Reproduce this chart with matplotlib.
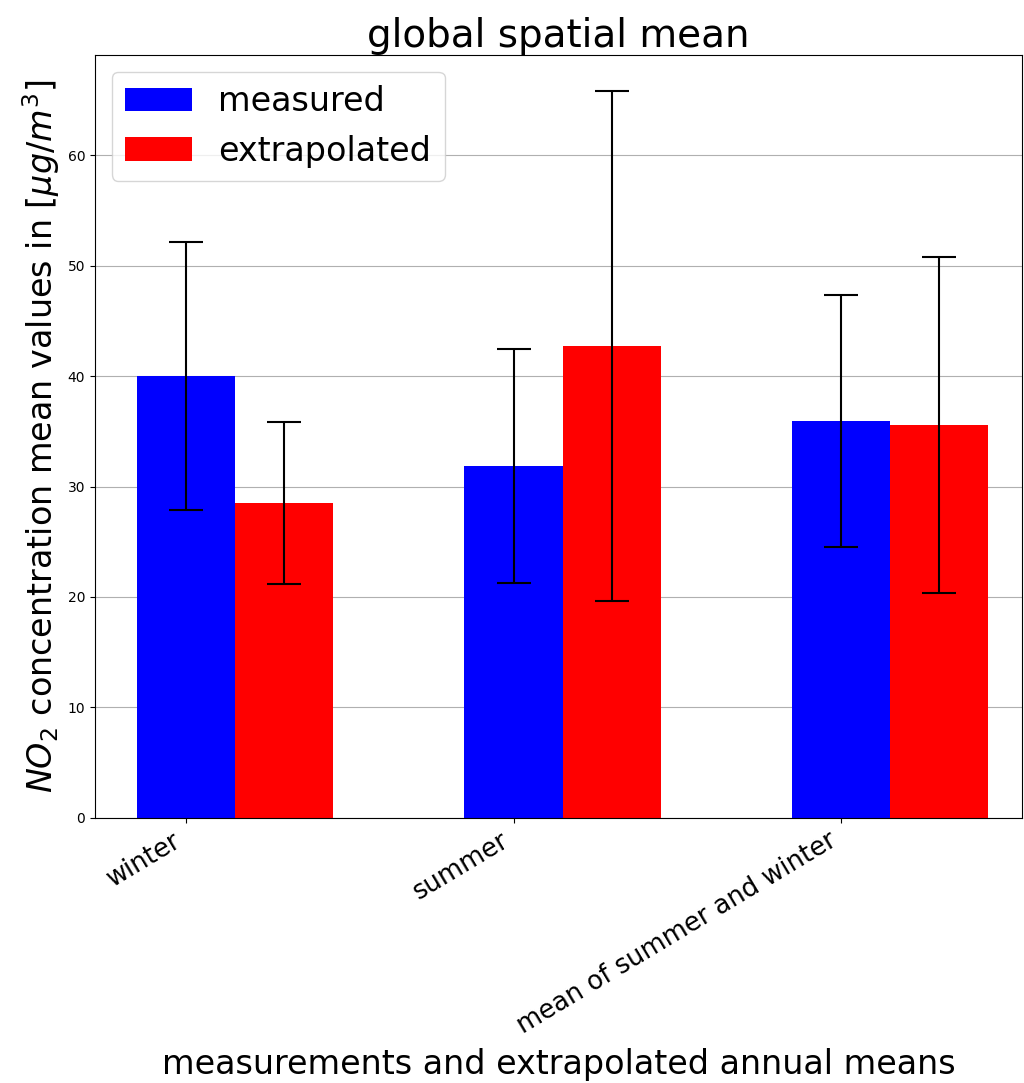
import numpy as np
import matplotlib
matplotlib.use('Agg')
from matplotlib import pyplot as plt

# data
seasons = ['winter', 'summer', 'mean of summer and winter']
measured = [40.0, 31.85, 35.9]
measured_err = [12.1, 10.55, 11.4]
extrapolated = [28.5, 42.7, 35.6]
extrapolated_err = [7.3, 23.1, 15.2]

width = 0.3
x = np.arange(len(seasons))

fig = plt.figure(figsize=(10.24, 10.83), dpi=100)
ax = fig.add_axes([0.0928, 0.2447, 0.9053, 0.7045])

ax.bar(x, measured, width, yerr=measured_err, color='blue', label='measured',
       capsize=12, error_kw=dict(ecolor='black', elinewidth=1.5, capthick=1.5), zorder=2)
ax.bar(x + width, extrapolated, width, yerr=extrapolated_err, color='red', label='extrapolated',
       capsize=12, error_kw=dict(ecolor='black', elinewidth=1.5, capthick=1.5), zorder=2)

ax.set_xticks(x)
ax.set_xticklabels(seasons, rotation=31, ha='right', fontsize=18.5)
ax.set_xlim(-0.278, 2.553)
ax.set_ylim(0, 69.05)
ax.yaxis.grid(True, color='#b0b0b0', zorder=0)
ax.set_axisbelow(True)

ax.set_title('global spatial mean', fontsize=28, pad=5)
ax.set_xlabel('measurements and extrapolated annual means', fontsize=24)
ax.xaxis.set_label_coords(0.5, -0.302)
ax.set_ylabel(r'$NO_2$ concentration mean values in [$\mu g/m^3$]', fontsize=24)
ax.legend(loc='upper left', fontsize=24)

plt.savefig('out.png', dpi=100)
